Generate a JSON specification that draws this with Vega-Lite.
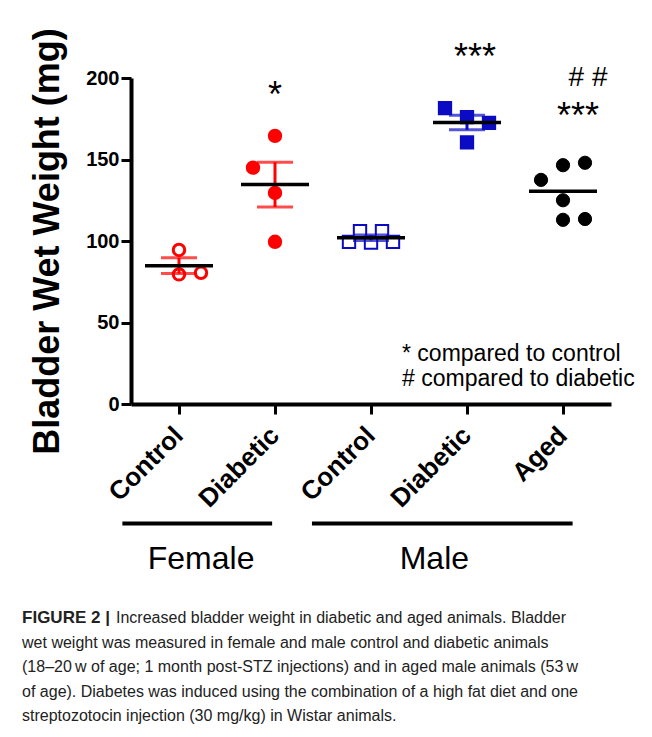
{
  "$schema": "https://vega.github.io/schema/vega-lite/v6.json",
  "width": 480,
  "height": 326,
  "autosize": {"type": "none"},
  "padding": {"left": 131, "top": 78, "right": 41, "bottom": 333},
  "background": "white",
  "config": {"view": {"stroke": null}, "font": "Liberation Sans"},
  "datasets": {
    "weights": [
      {"group": "Female Control", "col": 0, "value": 94.5},
      {"group": "Female Control", "col": 0, "value": 79.5},
      {"group": "Female Control", "col": 1, "value": 80.5},
      {"group": "Female Diabetic", "col": 0, "value": 164.5},
      {"group": "Female Diabetic", "col": -1, "value": 145},
      {"group": "Female Diabetic", "col": 0, "value": 129.5},
      {"group": "Female Diabetic", "col": 0, "value": 99.5},
      {"group": "Male Control", "col": -1, "value": 99.5},
      {"group": "Male Control", "col": -0.5, "value": 106},
      {"group": "Male Control", "col": 0, "value": 99},
      {"group": "Male Control", "col": 0.5, "value": 106},
      {"group": "Male Control", "col": 1, "value": 99.5},
      {"group": "Male Diabetic", "col": -1, "value": 181.5},
      {"group": "Male Diabetic", "col": 0, "value": 176},
      {"group": "Male Diabetic", "col": 1, "value": 172.5},
      {"group": "Male Diabetic", "col": 0, "value": 160.5},
      {"group": "Male Aged", "col": -1, "value": 137.5},
      {"group": "Male Aged", "col": 0, "value": 146.5},
      {"group": "Male Aged", "col": 1, "value": 148},
      {"group": "Male Aged", "col": 0, "value": 125},
      {"group": "Male Aged", "col": 0, "value": 113},
      {"group": "Male Aged", "col": 1, "value": 113.5}
    ],
    "notes": [
      {"group": "Female Diabetic", "col": 0, "value": 182.2, "label": "*", "kind": "star"},
      {"group": "Male Diabetic", "col": 0.36, "value": 205.5, "label": "***", "kind": "star"},
      {"group": "Male Aged", "col": 0.68, "value": 169.5, "label": "***", "kind": "star"},
      {"group": "Male Aged", "col": 1.14, "value": 195, "label": "# #", "kind": "hash"},
      {"group": "Male Control", "col": 1.41, "value": 26.5, "label": "* compared to control", "kind": "note"},
      {"group": "Male Control", "col": 1.41, "value": 11.2, "label": "# compared to diabetic", "kind": "note"}
    ],
    "brackets": [
      {"sex": "Female", "start": -0.09, "end": 1.47, "level": -73.3, "center": 0.73, "labelLevel": -101.5},
      {"sex": "Male", "start": 1.885, "end": 4.6, "level": -73.3, "center": 3.16, "labelLevel": -101.5}
    ],
    "caption": [
      {"part": "head", "text": "FIGURE 2 |", "pos": -1.135, "level": -126.1},
      {"part": "body", "text": "Increased bladder weight in diabetic and aged animals. Bladder", "pos": -0.156, "level": -126.4},
      {"part": "body", "text": "wet weight was measured in female and male control and diabetic animals", "pos": -1.135, "level": -141.43},
      {"part": "body", "text": "(18–20\u2009w of age; 1 month post-STZ injections) and in aged male animals (53\u2009w", "pos": -1.135, "level": -156.46},
      {"part": "body", "text": "of age). Diabetes was induced using the combination of a high fat diet and one", "pos": -1.135, "level": -171.5},
      {"part": "body", "text": "streptozotocin injection (30 mg/kg) in Wistar animals.", "pos": -1.135, "level": -186.53}
    ]
  },
  "layer": [
    {
      "data": {"name": "weights"},
      "layer": [
        {
          "mark": {"type": "point", "opacity": 1},
          "encoding": {
            "x": {
              "field": "group", "type": "nominal",
              "scale": {"type": "band", "domain": ["Female Control", "Female Diabetic", "Male Control", "Male Diabetic", "Male Aged"], "paddingInner": 0, "paddingOuter": 0},
              "axis": {
                "title": null, "labelExpr": "split(datum.label, ' ')[1]",
                "labelAngle": -45, "labelAlign": "right", "labelBaseline": "middle",
                "labelFontSize": 26, "labelFontWeight": "bold", "labelColor": "black", "labelPadding": 17,
                "domainWidth": 4, "domainColor": "black", "tickWidth": 3, "tickColor": "black", "tickSize": 10, "grid": false
              }
            },
            "xOffset": {"field": "col", "type": "quantitative", "scale": {"domain": [-2.1818, 2.1818]}},
            "y": {
              "field": "value", "type": "quantitative",
              "scale": {"domain": [0, 200], "nice": false},
              "title": "Bladder Wet Weight (mg)",
              "axis": {
                "values": [0, 50, 100, 150, 200], "grid": false,
                "domainWidth": 4, "domainColor": "black", "tickWidth": 3, "tickColor": "black", "tickSize": 10,
                "labelFontSize": 20, "labelFontWeight": "bold", "labelColor": "black", "labelPadding": 2,
                "titleFontSize": 36, "titleFontWeight": "bold", "titleColor": "black", "titlePadding": 19
              }
            },
            "shape": {"field": "group", "type": "nominal", "scale": {"domain": ["Female Control", "Female Diabetic", "Male Control", "Male Diabetic", "Male Aged"], "range": ["circle", "circle", "square", "square", "circle"]}, "legend": null},
            "fill": {"field": "group", "type": "nominal", "scale": {"domain": ["Female Control", "Female Diabetic", "Male Control", "Male Diabetic", "Male Aged"], "range": ["white", "#ff0000", "white", "#0b0bc4", "black"]}, "legend": null},
            "stroke": {"field": "group", "type": "nominal", "scale": {"domain": ["Female Control", "Female Diabetic", "Male Control", "Male Diabetic", "Male Aged"], "range": ["#ff0000", "#ff0000", "#0b0bc4", "#0b0bc4", "black"]}, "legend": null},
            "size": {"field": "group", "type": "nominal", "scale": {"domain": ["Female Control", "Female Diabetic", "Male Control", "Male Diabetic", "Male Aged"], "range": [130, 175, 160, 220, 90]}, "legend": null},
            "strokeWidth": {"field": "group", "type": "nominal", "scale": {"domain": ["Female Control", "Female Diabetic", "Male Control", "Male Diabetic", "Male Aged"], "range": [3, 1, 3.5, 1, 1]}, "legend": null}
          }
        },
        {
          "transform": [{"filter": "datum.group !== 'Male Aged'"}],
          "mark": {"type": "errorbar", "extent": "stderr", "thickness": 3, "ticks": {"size": 36, "thickness": 3}},
          "encoding": {
            "x": {"field": "group", "type": "nominal"},
            "y": {"field": "value", "type": "quantitative", "title": "Bladder Wet Weight (mg)", "scale": {"domain": [0, 200], "nice": false}},
            "color": {"field": "group", "type": "nominal", "scale": {"domain": ["Female Control", "Female Diabetic", "Male Control", "Male Diabetic", "Male Aged"], "range": ["#ff0000", "#ff0000", "#0b0bc4", "#0b0bc4", "black"]}, "legend": null}
          }
        },
        {
          "mark": {"type": "tick", "color": "black", "size": 68, "thickness": 3.5, "opacity": 1},
          "encoding": {
            "x": {"field": "group", "type": "nominal"},
            "y": {"aggregate": "mean", "field": "value", "type": "quantitative", "title": "Bladder Wet Weight (mg)", "scale": {"domain": [0, 200], "nice": false}}
          }
        },
        {
          "data": {"name": "notes"},
          "transform": [{"filter": "datum.kind === 'star'"}],
          "mark": {"type": "text", "fontSize": 36, "font": "Liberation Sans", "color": "black", "align": "center", "baseline": "alphabetic"},
          "encoding": {
            "x": {"field": "group", "type": "nominal"},
            "xOffset": {"field": "col", "type": "quantitative"},
            "y": {"field": "value", "type": "quantitative", "title": "Bladder Wet Weight (mg)", "scale": {"domain": [0, 200], "nice": false}},
            "text": {"field": "label"}
          }
        },
        {
          "data": {"name": "notes"},
          "transform": [{"filter": "datum.kind === 'hash'"}],
          "mark": {"type": "text", "fontSize": 28, "font": "Liberation Sans", "color": "black", "align": "center", "baseline": "alphabetic"},
          "encoding": {
            "x": {"field": "group", "type": "nominal"},
            "xOffset": {"field": "col", "type": "quantitative"},
            "y": {"field": "value", "type": "quantitative", "title": "Bladder Wet Weight (mg)", "scale": {"domain": [0, 200], "nice": false}},
            "text": {"field": "label"}
          }
        },
        {
          "data": {"name": "notes"},
          "transform": [{"filter": "datum.kind === 'note'"}],
          "mark": {"type": "text", "fontSize": 23, "font": "Liberation Sans", "color": "black", "align": "left", "baseline": "alphabetic"},
          "encoding": {
            "x": {"field": "group", "type": "nominal"},
            "xOffset": {"field": "col", "type": "quantitative"},
            "y": {"field": "value", "type": "quantitative", "title": "Bladder Wet Weight (mg)", "scale": {"domain": [0, 200], "nice": false}},
            "text": {"field": "label"}
          }
        }
      ]
    },
    {
      "layer": [
        {
          "data": {"name": "brackets"},
          "mark": {"type": "rule", "strokeWidth": 4, "color": "black", "clip": false},
          "encoding": {
            "x": {"field": "start", "type": "quantitative", "scale": {"domain": [0, 5], "nice": false, "zero": false}, "axis": null},
            "x2": {"field": "end"},
            "y": {"field": "level", "type": "quantitative", "title": "Bladder Wet Weight (mg)", "scale": {"domain": [0, 200], "nice": false}}
          }
        },
        {
          "data": {"name": "brackets"},
          "mark": {"type": "text", "fontSize": 32, "font": "Liberation Sans", "color": "black", "align": "center", "baseline": "alphabetic", "clip": false},
          "encoding": {
            "x": {"field": "center", "type": "quantitative", "axis": null},
            "y": {"field": "labelLevel", "type": "quantitative", "title": "Bladder Wet Weight (mg)", "scale": {"domain": [0, 200], "nice": false}},
            "text": {"field": "sex"}
          }
        },
        {
          "data": {"name": "caption"},
          "transform": [{"filter": "datum.part === 'head'"}],
          "mark": {"type": "text", "fontSize": 17, "fontWeight": "bold", "font": "Liberation Sans", "color": "#222222", "align": "left", "baseline": "top", "clip": false},
          "encoding": {
            "x": {"field": "pos", "type": "quantitative", "axis": null},
            "y": {"field": "level", "type": "quantitative", "title": "Bladder Wet Weight (mg)", "scale": {"domain": [0, 200], "nice": false}},
            "text": {"field": "text"}
          }
        },
        {
          "data": {"name": "caption"},
          "transform": [{"filter": "datum.part === 'body'"}],
          "mark": {"type": "text", "fontSize": 16, "font": "Liberation Sans", "color": "#222222", "align": "left", "baseline": "top", "clip": false},
          "encoding": {
            "x": {"field": "pos", "type": "quantitative", "axis": null},
            "y": {"field": "level", "type": "quantitative", "title": "Bladder Wet Weight (mg)", "scale": {"domain": [0, 200], "nice": false}},
            "text": {"field": "text"}
          }
        }
      ]
    }
  ],
  "resolve": {"scale": {"x": "independent"}, "axis": {"x": "independent"}}
}
